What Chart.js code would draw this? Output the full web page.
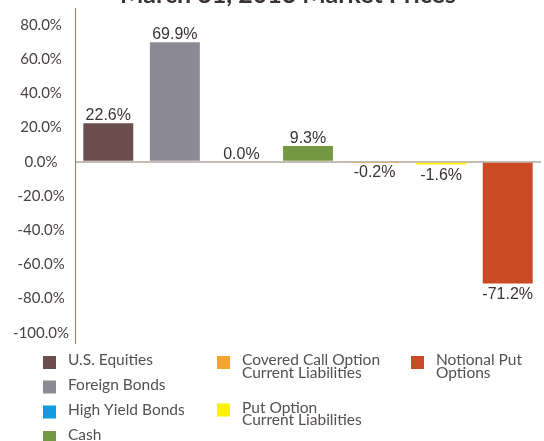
<!DOCTYPE html>
<html>
<head>
<meta charset="utf-8">
<script src="https://cdn.jsdelivr.net/npm/chart.js@4/dist/chart.umd.min.js"></script>
<style>
  html, body { margin: 0; padding: 0; background: #ffffff; }
  #wrap { position: relative; width: 544px; height: 441px; overflow: hidden; }
  canvas { display: block; }
</style>
</head>
<body>
<div id="wrap"><canvas id="c" width="544" height="441"></canvas></div>
<script>
// ---- data ----
const chartTitle = 'March 31, 2013 Market Prices';
const categories = ['U.S. Equities', 'Foreign Bonds', 'High Yield Bonds', 'Cash',
  'Covered Call Option Current Liabilities', 'Put Option Current Liabilities', 'Notional Put Options'];
const legendLines = [['U.S. Equities'], ['Foreign Bonds'], ['High Yield Bonds'], ['Cash'],
  ['Covered Call Option', 'Current Liabilities'], ['Put Option', 'Current Liabilities'], ['Notional Put', 'Options']];
const values = [22.6, 69.9, 0.0, 9.3, -0.2, -1.6, -71.2];
const colors = ['#6b4e4b', '#8c8a94', '#0f9de0', '#739a42', '#f6a431', '#fff200', '#c94a24'];
const tickValues = [-100, -80, -60, -40, -20, 0, 20, 40, 60, 80];

const labelPlugin = {
  id: 'barLabels',
  afterDatasetsDraw(chart) {
    const ctx = chart.ctx;
    const meta = chart.getDatasetMeta(0);
    ctx.save();
    ctx.font = '16px "Liberation Sans", Arial, sans-serif';
    ctx.fillStyle = '#3b3333';
    ctx.textAlign = 'center';
    ctx.textBaseline = 'alphabetic';
    meta.data.forEach((bar, i) => {
      const v = values[i];
      const txt = v.toFixed(1) + '%';
      if (v >= 0) ctx.fillText(txt, bar.x, bar.y - 3);
      else ctx.fillText(txt, bar.x, bar.y + 15);
    });
    ctx.restore();
  }
};

const decorPlugin = {
  id: 'decor',
  afterDraw(chart) {
    const ctx = chart.ctx;
    ctx.save();
    // title (cut off at top as in reference)
    ctx.font = 'bold 25px Lato, sans-serif';
    ctx.fillStyle = '#3a3333';
    ctx.textAlign = 'center';
    ctx.textBaseline = 'alphabetic';
    ctx.fillText(chartTitle, 288, 3);
    // legend
    const cols = [[0, 1, 2, 3], [4, 5], [6]];
    const colX = [43, 217, 411];
    const rowsBase = [[365, 389.5, 414.5, 440], [365, 412.5], [365]];
    ctx.font = '15.5px Lato, sans-serif';
    ctx.textAlign = 'left';
    cols.forEach((col, ci) => {
      col.forEach((idx, ri) => {
        const base = rowsBase[ci][ri];
        ctx.fillStyle = colors[idx];
        ctx.fillRect(colX[ci], base - 9, 13, 13);
        ctx.fillStyle = '#555050';
        legendLines[idx].forEach((ln, li) => {
          ctx.fillText(ln, colX[ci] + 25, base + li * 12.5);
        });
      });
    });
    ctx.restore();
  }
};

new Chart(document.getElementById('c'), {
  type: 'bar',
  data: {
    labels: categories,
    datasets: [{
      data: values,
      backgroundColor: colors,
      borderWidth: 0,
      barPercentage: 0.75,
      categoryPercentage: 1.0
    }]
  },
  options: {
    responsive: false,
    animation: false,
    layout: { padding: { top: 8, bottom: 98, left: 0, right: 3 } },
    plugins: { legend: { display: false }, title: { display: false }, tooltip: { enabled: false } },
    scales: {
      x: { display: false },
      y: {
        min: -106,
        max: 90,
        afterBuildTicks: (s) => { s.ticks = tickValues.map(v => ({ value: v })); },
        afterFit: (s) => { s.width = 75; s.paddingTop = 0; s.paddingBottom = 0; },
        ticks: {
          crossAlign: 'center',
          padding: 6,
          color: '#4a4242',
          font: { family: 'Lato', size: 15 },
          callback: (v) => Number(v).toFixed(1) + '%'
        },
        grid: {
          drawTicks: false,
          lineWidth: 2,
          color: (c) => (c.tick && c.tick.value === 0 ? '#c4bcb6' : 'rgba(0,0,0,0)')
        },
        border: { display: true, color: '#8f7b74', width: 1 }
      }
    }
  },
  plugins: [labelPlugin, decorPlugin]
});
</script>
</body>
</html>
